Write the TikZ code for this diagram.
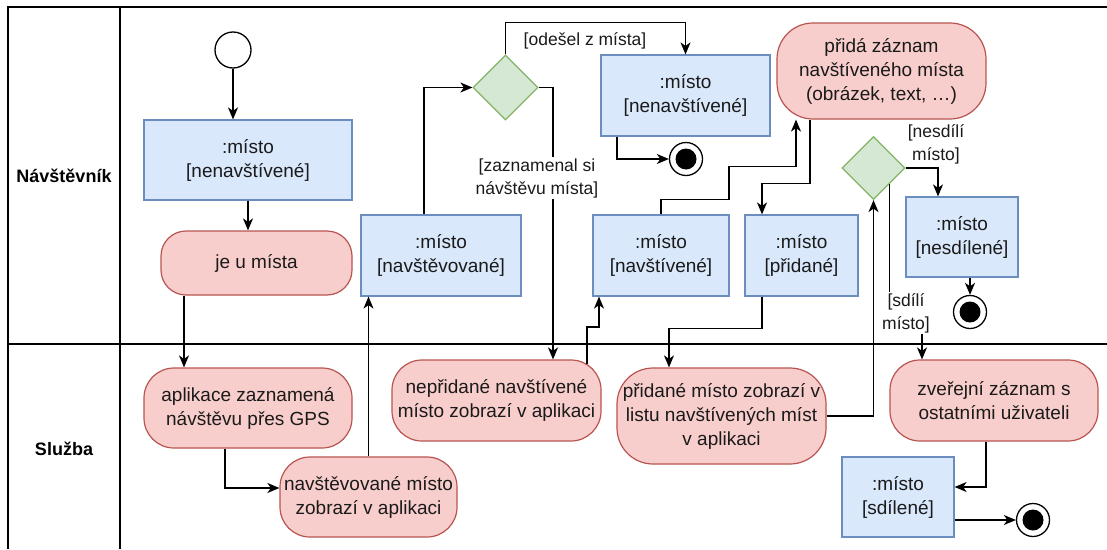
\documentclass[tikz,border=0pt]{standalone}
\usepackage{fontspec}
\setmainfont{Liberation Sans}
\usetikzlibrary{arrows.meta,shapes.geometric}
\definecolor{objfill}{HTML}{DAE8FC}
\definecolor{objdraw}{HTML}{6C8EBF}
\definecolor{actfill}{HTML}{F8CECC}
\definecolor{actdraw}{HTML}{B85450}
\definecolor{decfill}{HTML}{D5E8D4}
\definecolor{decdraw}{HTML}{82B366}
\definecolor{txt}{HTML}{1A1A1A}
\begin{document}
\begin{tikzpicture}[x=1pt,y=-1pt,
  every node/.style={font=\fontsize{19}{24}\selectfont, text=txt, align=center, inner sep=0pt},
  sz/.style n args={2}{minimum width=#1, minimum height=#2},
  objbox/.style={rectangle, draw=objdraw, fill=objfill, line width=1.2pt},
  actbox/.style={rectangle, draw=actdraw, fill=actfill, line width=1.2pt, rounded corners=#1},
  actbox/.default=25pt,
  decbox/.style={diamond, aspect=1, draw=decdraw, fill=decfill, line width=1.2pt, minimum width=65pt, minimum height=65pt},
  startst/.style={circle, draw=black, fill=white, line width=1.3pt, minimum size=36pt},
  endst/.style={circle, draw=black, fill=white, line width=1.3pt, minimum size=33pt,
     path picture={\fill[black] (path picture bounding box.center) circle (10.5pt);}},
  arr/.style={draw=black, line width=1.4pt, -{Stealth[length=12pt,width=10pt,inset=3.5pt]}},
  pool/.style={draw=black, line width=1.4pt},
  lanelbl/.style={font=\fontsize{18}{24}\selectfont\bfseries, text=black},
  guardlbl/.style={font=\fontsize{17.5}{23}\selectfont, inner sep=1pt, text=txt},
  guard/.style={guardlbl, fill=white}
]
\useasboundingbox (0,0) rectangle (1107,549);
% pool and lanes
\draw[pool] (1107,7) -- (8,7) -- (8,549);
\draw[pool] (120,7) -- (120,549);
\draw[pool] (8,344) -- (1107,344);
\node[lanelbl] (lane1) at (64,176) {Návštěvník};
\node[lanelbl] (lane2) at (64,449) {Služba};

% nodes
\node[startst] (start) at (233,50) {};
\node[objbox, sz={208pt}{80pt}] (o1) at (248,160) {:místo\\{}[nenavštívené]};
\node[actbox, sz={191pt}{64pt}] (a1) at (256.5,263) {je u místa};
\node[actbox=30pt, sz={208pt}{80pt}] (a2) at (248,408) {aplikace zaznamená\\návštěvu přes GPS};
\node[actbox=30pt, sz={177pt}{80pt}] (a3) at (368.5,497) {navštěvované místo\\zobrazí v aplikaci};
\node[objbox, sz={160pt}{81pt}] (o2) at (441,255.5) {:místo\\{}[navštěvované]};
\node[decbox] (d1) at (505.5,87.5) {};
\node[objbox, sz={169pt}{81pt}] (o3) at (685.5,95.5) {:místo\\{}[nenavštívené]};
\node[endst] (e1) at (686,159) {};
\node[actbox=30pt, sz={209pt}{81pt}] (a4) at (496.5,400.5) {nepřidané navštívené\\místo zobrazí v aplikaci};
\node[objbox, sz={136pt}{81pt}] (o4) at (661,255.5) {:místo\\{}[navštívené]};
\node[actbox=36pt, sz={209pt}{96pt}] (a5) at (881.5,71) {přidá záznam\\navštíveného místa\\(obrázek, text, …)};
\node[objbox, sz={113pt}{81pt}] (o5) at (801.5,255.5) {:místo\\{}[přidané]};
\node[actbox=36pt, sz={209pt}{96pt}] (a6) at (721.5,416) {přidané místo zobrazí v\\listu navštívených míst\\v aplikaci};
\node[decbox, minimum width=63pt, minimum height=63pt] (d2) at (873.5,168) {};
\node[objbox, sz={112pt}{80pt}] (o6) at (962,237) {:místo\\{}[nesdílené]};
\node[endst] (e2) at (970,312) {};
\node[actbox=30pt, sz={208pt}{81pt}] (a7) at (994,400.5) {zveřejní záznam s\\ostatními uživateli};
\node[objbox, sz={112pt}{80pt}] (o7) at (898,497) {:místo\\{}[sdílené]};
\node[endst] (e3) at (1033,520) {};

% connectors
\draw[arr] (start) -- (start |- o1.north);
\draw[arr] (o1.south) -- (o1.south |- a1.north);
\draw[arr] ([xshift=-72.5pt]a1.south) -- ([xshift=-72.5pt]a1.south |- a2.north);
\draw[arr] ([xshift=-23pt]a2.south) |- ([yshift=9pt]a3.west);
\draw[arr] (a3.north) -- (a3.north |- o2.south);
\draw[arr] ([xshift=-17pt]o2.north) |- (d1.west);
\draw[arr] (d1.north) -- ++(0,-32) -| (o3.north);
\node[guardlbl] (g1) at (585,41) {[odešel z místa]};
\draw[arr] ([xshift=-68.5pt]o3.south) |- (e1.west);
\draw[arr] (d1.east) -| ([xshift=56.5pt]a4.north);
\node[guard] (g2) at (537,178) {[zaznamenal si\\návštěvu místa]};
\draw[arr] ([xshift=90.5pt,yshift=-4.5pt]a4.north) -- ++(0,-37) -| ([xshift=-62pt]o4.south);
\draw[arr] (o4.north) -- ++(0,-15) -- ++(68,0) -- ++(0,-33) -| ([xshift=-85.5pt]a5.south);
\draw[arr] ([xshift=-71.5pt]a5.south) -- ++(0,64) -| ([xshift=-39.5pt]o5.north);
\draw[arr] ([xshift=-39.5pt]o5.south) -- ++(0,32) -| ([xshift=-52.5pt]a6.north);
\draw[arr] (a6.east) -| (d2.south);
\draw[arr] (d2.east) -| ([xshift=-24pt]o6.north);
\node[guardlbl] (g3) at (936,144) {[nesdílí\\místo]};
\draw[arr] ([xshift=8pt]o6.south) -- (e2.north);
\draw[arr] (d2.south east) -- ++(0,130) -| ([xshift=-72pt]a7.north);
\node[guard] (g4) at (906,313) {[sdílí\\místo]};
\draw[arr] ([xshift=-8pt]a7.south) |- ([yshift=10pt]o7.east);
\draw[arr] ([yshift=-23pt]o7.east) -- (e3.west);
\end{tikzpicture}
\end{document}
